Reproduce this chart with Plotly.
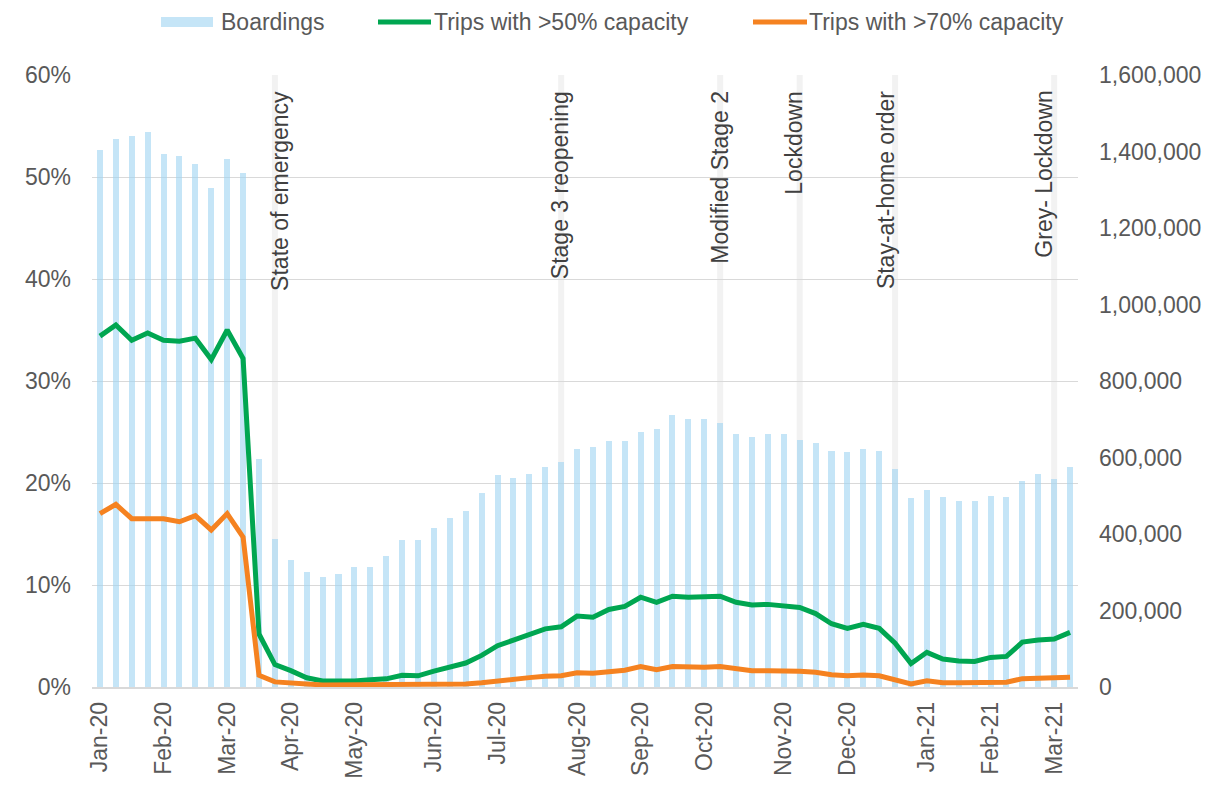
import plotly.graph_objects as go

# Weekly ridership, Jan 2020 - Mar 2021 (one entry per week)
boardings = [
    1404000, 1432000, 1440000, 1451000, 1393000, 1389000, 1368000, 1304000, 1380000, 1344000,
    595000, 387000, 331000, 300000, 288000, 296000, 314000, 314000, 343000, 384000,
    384000, 416000, 443000, 460000, 506000, 553000, 546000, 557000, 576000, 588000,
    623000, 627000, 642000, 642000, 667000, 674000, 711000, 700000, 700000, 689000,
    661000, 654000, 661000, 661000, 646000, 637000, 618000, 614000, 623000, 617000,
    570000, 494000, 514000, 498000, 485000, 485000, 499000, 496000, 539000, 557000,
    544000, 574000,
]

# Share of trips above capacity thresholds (percent)
trips_over_50 = [
    34.4, 35.5, 34.0, 34.7, 34.0, 33.9, 34.2, 32.1, 35.0, 32.2,
    5.2, 2.2, 1.6, 0.9, 0.6, 0.55, 0.6, 0.7, 0.8, 1.15,
    1.1, 1.55, 1.95, 2.35, 3.1, 4.05, 4.6, 5.2, 5.7, 5.9,
    6.95, 6.85, 7.6, 7.9, 8.8, 8.3, 8.9, 8.8, 8.85, 8.9,
    8.3, 8.05, 8.1, 8.0, 7.8, 7.2, 6.2, 5.75, 6.15, 5.75,
    4.3, 2.3, 3.4, 2.75, 2.55, 2.5, 2.9, 3.0, 4.4, 4.6,
    4.7, 5.35,
]
trips_over_70 = [
    17.0, 17.9, 16.5, 16.5, 16.5, 16.2, 16.8, 15.4, 17.0, 14.7,
    1.15, 0.5, 0.35, 0.3, 0.2, 0.2, 0.2, 0.22, 0.25, 0.25,
    0.28, 0.3, 0.3, 0.3, 0.42, 0.6, 0.85, 0.92, 1.05, 1.1,
    1.4, 1.35, 1.5, 1.65, 2.0, 1.7, 2.0, 1.93, 1.93, 2.0,
    1.75, 1.6, 1.6, 1.6, 1.55, 1.45, 1.2, 1.1, 1.18, 1.1,
    0.75, 0.3, 0.6, 0.42, 0.42, 0.42, 0.46, 0.46, 0.82, 0.85,
    0.88, 0.95,
]

weeks = list(range(len(boardings)))

# Month labels and the week each one sits on
month_labels = ["Jan-20", "Feb-20", "Mar-20", "Apr-20", "May-20", "Jun-20", "Jul-20",
                "Aug-20", "Sep-20", "Oct-20", "Nov-20", "Dec-20", "Jan-21", "Feb-21", "Mar-21"]
month_weeks = [0, 4, 8, 12, 16, 21, 25, 30, 34, 38, 43, 47, 52, 56, 60]

# Public-health milestones
event_labels = ["State of emergency", "Stage 3 reopening", "Modified Stage 2",
                "Lockdown", "Stay-at-home order", "Grey- Lockdown"]
event_weeks = [11, 29, 39, 44, 50, 60]

FONT = "Liberation Sans, Arial, sans-serif"
TXT = "#595959"
GREEN = "#00a651"
ORANGE = "#f58220"
W, H = 1216, 792
ML, MR, MT, MB = 92, 138, 75, 105
PW, PH = W - ML - MR, H - MT - MB


def px_x(x):
    return (x - ML) / PW


def px_y(y):
    return (H - MB - y) / PH


fig = go.Figure()

fig.add_trace(go.Bar(
    x=weeks, y=boardings, name="Boardings", yaxis="y",
    marker=dict(color="rgb(158,212,242)", opacity=0.6, line=dict(width=0)),
    width=0.38, showlegend=False, hoverinfo="skip",
))
fig.add_trace(go.Scatter(
    x=weeks, y=[v / 100 for v in trips_over_50], name="Trips with >50% capacity",
    yaxis="y2", mode="lines", line=dict(color=GREEN, width=5), showlegend=False,
))
fig.add_trace(go.Scatter(
    x=weeks, y=[v / 100 for v in trips_over_70], name="Trips with >70% capacity",
    yaxis="y2", mode="lines", line=dict(color=ORANGE, width=5), showlegend=False,
))

shapes = []
annotations = []

# Milestone bands and their rotated captions
label_shift = [5, -1, -1, -6, -9, -11]
for wk, lab, dx in zip(event_weeks, event_labels, label_shift):
    shapes.append(dict(type="line", xref="x", yref="paper", x0=wk, x1=wk, y0=0, y1=1,
                       line=dict(color="#f2f2f2", width=6), layer="between"))
    annotations.append(dict(x=wk, xref="x", y=px_y(89), yref="paper", text=lab,
                            textangle=-90, showarrow=False, xanchor="center", yanchor="top",
                            xshift=dx, font=dict(family=FONT, size=23, color="#404040")))

# Legend row
leg_y = px_y(22)
shapes.append(dict(type="rect", xref="paper", yref="paper", x0=px_x(161), x1=px_x(213),
                   y0=px_y(27), y1=px_y(17), fillcolor="#c5e5f7", line=dict(width=0)))
shapes.append(dict(type="line", xref="paper", yref="paper", x0=px_x(378), x1=px_x(431),
                   y0=leg_y, y1=leg_y, line=dict(color=GREEN, width=5)))
shapes.append(dict(type="line", xref="paper", yref="paper", x0=px_x(753), x1=px_x(807),
                   y0=leg_y, y1=leg_y, line=dict(color=ORANGE, width=5)))
for name, xpix in [("Boardings", 219), ("Trips with >50% capacity", 432),
                   ("Trips with >70% capacity", 807)]:
    annotations.append(dict(x=px_x(xpix), xref="paper", y=leg_y, yref="paper", text=name,
                            showarrow=False, xanchor="left", yanchor="middle",
                            font=dict(family=FONT, size=23, color=TXT)))

fig.update_layout(
    width=W, height=H, autosize=False,
    margin=dict(l=ML, r=MR, t=MT, b=MB, pad=0),
    paper_bgcolor="white", plot_bgcolor="white",
    font=dict(family=FONT, size=23, color=TXT),
    bargap=0,
    xaxis=dict(range=[-0.5, 61.5], tickmode="array", tickvals=month_weeks, ticktext=month_labels,
               tickangle=-90, showgrid=False, zeroline=False, showline=True,
               linecolor="#d9d9d9", linewidth=1.5, ticks="", ticklabelstandoff=4,
               tickfont=dict(family=FONT, size=23, color=TXT)),
    yaxis=dict(range=[0, 1600000], dtick=200000, tickformat=",", side="right",
               showgrid=False, zeroline=False, showline=False, ticks="",
               ticklabelstandoff=20, tickfont=dict(family=FONT, size=23, color=TXT)),
    yaxis2=dict(range=[0, 0.6], dtick=0.1, tickformat=".0%", side="left", overlaying="y",
                showgrid=True, gridcolor="#d9d9d9", gridwidth=1.3, zeroline=False,
                showline=False, ticks="", ticklabelstandoff=20,
                tickfont=dict(family=FONT, size=23, color=TXT)),
    shapes=shapes, annotations=annotations,
    hovermode=False,
)

fig.write_html("out.html")
